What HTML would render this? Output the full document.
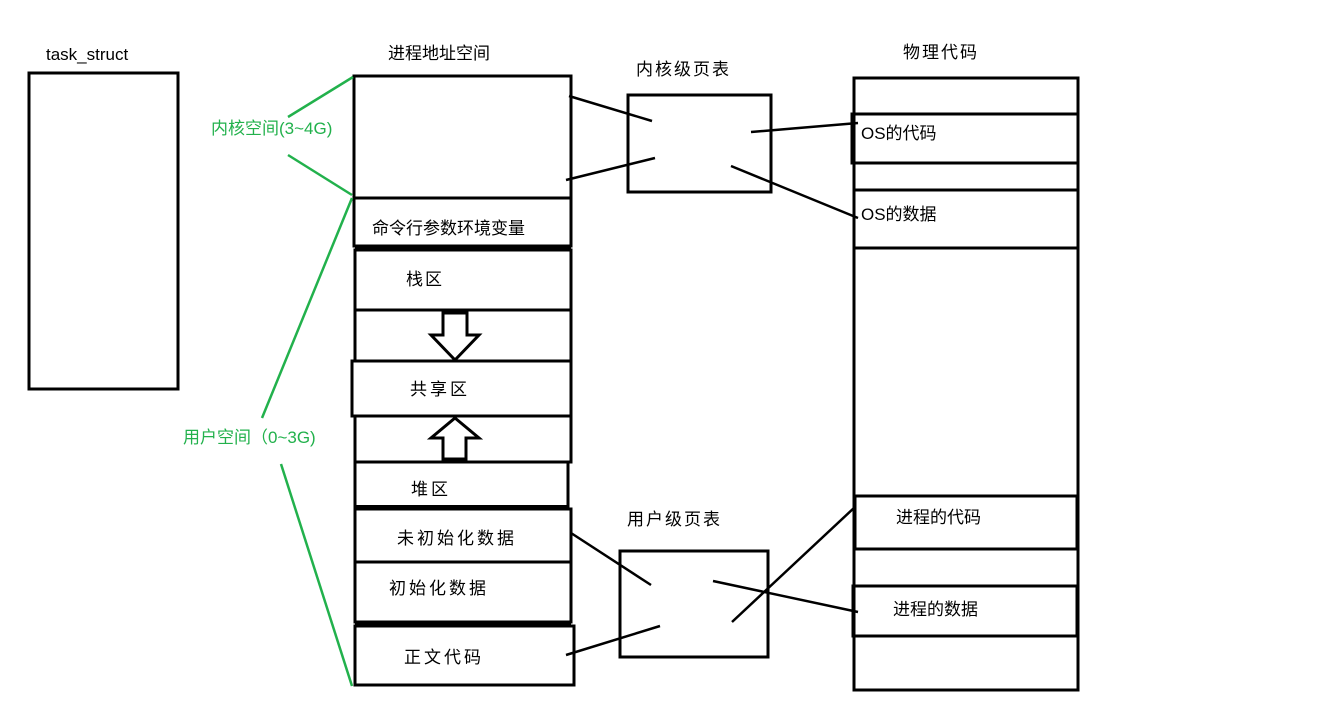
<!DOCTYPE html>
<html><head><meta charset="utf-8"><style>
body{margin:0;background:#fff;}
svg text{font-family:"Liberation Sans","Noto Sans CJK SC",sans-serif;font-size:17px;fill:#000;}
</style></head><body>
<svg width="1331" height="697" viewBox="0 0 1331 697" xmlns="http://www.w3.org/2000/svg">
<g fill="none" stroke="#000" stroke-width="3">
<rect x="29" y="73" width="149" height="316"/>
<rect x="354" y="76" width="217" height="122"/>
<rect x="354" y="198" width="217" height="48"/>
<rect x="355" y="250" width="216" height="60"/>
<rect x="355" y="310" width="216" height="51"/>
<rect x="352" y="361" width="219" height="55"/>
<rect x="355" y="416" width="216" height="46"/>
<rect x="355" y="462" width="213" height="45"/>
<rect x="355" y="509" width="216" height="53"/>
<rect x="355" y="562" width="216" height="60"/>
<rect x="355" y="626" width="219" height="59"/>
<rect x="628" y="95" width="143" height="97"/>
<rect x="620" y="551" width="148" height="106"/>
<rect x="854" y="78" width="224" height="612"/>
<rect x="852" y="114" width="226" height="49"/>
<rect x="854" y="190" width="224" height="58"/>
<rect x="855" y="496" width="222" height="53"/>
<rect x="853" y="586" width="224" height="50"/>
</g>
<line x1="355" y1="248" x2="571" y2="248" stroke="#000" stroke-width="5"/>
<line x1="355" y1="624" x2="571" y2="624" stroke="#000" stroke-width="4"/>
<line x1="355" y1="507" x2="568" y2="507" stroke="#000" stroke-width="4"/>
<g stroke="#000" stroke-width="2.5">
<line x1="569" y1="96" x2="652" y2="121"/>
<line x1="566" y1="180" x2="655" y2="158"/>
<line x1="751" y1="132" x2="858" y2="123"/>
<line x1="731" y1="166" x2="858" y2="218"/>
<line x1="571" y1="533" x2="651" y2="585"/>
<line x1="566" y1="655" x2="660" y2="626"/>
<line x1="713" y1="581" x2="858" y2="612"/>
<line x1="732" y1="622" x2="855" y2="507"/>
</g>
<g stroke="#22b14c" stroke-width="2.5">
<line x1="353" y1="77" x2="288" y2="117"/>
<line x1="288" y1="155" x2="352" y2="195"/>
<line x1="352" y1="198" x2="262" y2="418"/>
<line x1="281" y1="464" x2="352" y2="686"/>
</g>
<g fill="#fff" stroke="#000" stroke-width="3">
<polygon points="443,313 467,313 467,335 479,335 455,360 431,335 443,335"/>
<polygon points="455,418 479,438 466,438 466,459 443,459 443,438 431,438"/>
</g>
<text x="46" y="60">task_struct</text>
<text x="388" y="59">进程地址空间</text>
<text x="636" y="75" letter-spacing="2">内核级页表</text>
<text x="903" y="58" letter-spacing="2">物理代码</text>
<text x="211" y="134" style="fill:#22b14c">内核空间(3~4G)</text>
<text x="183" y="443" style="fill:#22b14c">用户空间（0~3G)</text>
<text x="372" y="234">命令行参数环境变量</text>
<text x="406" y="285" letter-spacing="2">栈区</text>
<text x="410" y="395" letter-spacing="3">共享区</text>
<text x="411" y="495" letter-spacing="3">堆区</text>
<text x="397" y="544" letter-spacing="3">未初始化数据</text>
<text x="389" y="594" letter-spacing="3">初始化数据</text>
<text x="404" y="663" letter-spacing="3">正文代码</text>
<text x="627" y="525" letter-spacing="2">用户级页表</text>
<text x="861" y="139">OS的代码</text>
<text x="861" y="220">OS的数据</text>
<text x="896" y="523">进程的代码</text>
<text x="893" y="615">进程的数据</text>
</svg>
</body></html>
